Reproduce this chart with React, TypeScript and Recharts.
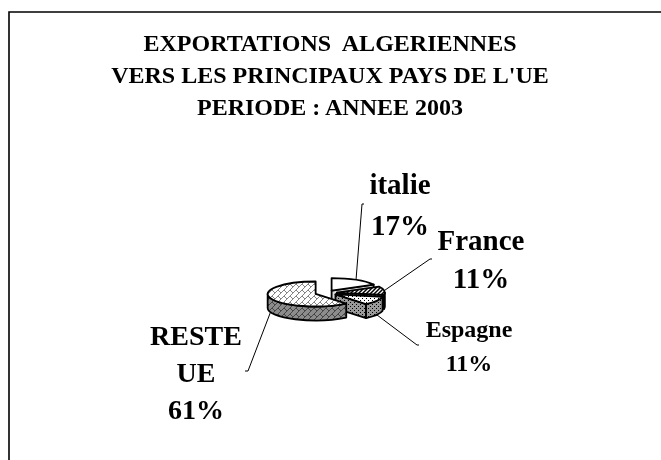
import { PieChart, Pie } from "recharts";

const CATEGORIES = ["italie", "France", "Espagne", "RESTE UE"];
const SHARES = [17, 11, 11, 61];

const TITLE_LINES = [
  "EXPORTATIONS  ALGERIENNES",
  "VERS LES PRINCIPAUX PAYS DE L'UE",
  "PERIODE : ANNEE 2003",
];

const data = CATEGORIES.map((name, i) => ({ name, value: SHARES[i] }));

// 3D look
const TILT = 0.26;
const DEPTH = 14;
const EXPLODE = 11;
const RAD = Math.PI / 180;
const FONT = "'Liberation Serif', 'Times New Roman', serif";

const SLICE_FILLS = [
  { top: "#ffffff", side: "#d9d9d9" },
  { top: "url(#pFranceTop)", side: "url(#pFranceSide)" },
  { top: "url(#pEspTop)", side: "url(#pEspSide)" },
  { top: "url(#pResteTop)", side: "url(#pResteSide)" },
];

// where each label block sits (svg coords)
const LABEL_LAYOUT = [
  { end: [354, 196], tick: 2, x: 392, y: 186, gap: 41, size: 29 },
  { end: [422, 251], tick: 2, x: 473, y: 242, gap: 38, size: 29 },
  { end: [409, 337], tick: 2, x: 461, y: 329, gap: 34, size: 24 },
  { end: [240, 363], tick: -3, x: 188, y: 337, gap: 37, size: 28 },
];

const pt = (cx: number, cy: number, rx: number, ry: number, a: number) => [
  cx + rx * Math.cos(a * RAD),
  cy - ry * Math.sin(a * RAD),
];

const explodedCenter = (cx: number, cy: number, mid: number) => [
  cx + EXPLODE * Math.cos(mid * RAD),
  cy - EXPLODE * TILT * Math.sin(mid * RAD),
];

const Slice3D = (props: any) => {
  const { cx, cy, outerRadius, startAngle, endAngle, midAngle, index } = props;
  const rx = outerRadius;
  const ry = outerRadius * TILT;
  const [ox, oy] = explodedCenter(cx, cy, midAngle);
  const s = startAngle;
  const e = endAngle;
  const [sx, sy] = pt(ox, oy, rx, ry, s);
  const [ex, ey] = pt(ox, oy, rx, ry, e);
  const large = s - e > 180 ? 1 : 0;
  const fills = SLICE_FILLS[index] || SLICE_FILLS[0];
  const d = DEPTH;

  const walls: string[] = [];
  if (Math.cos(s * RAD) < -0.001) {
    walls.push(`M${ox},${oy}L${sx},${sy}L${sx},${sy + d}L${ox},${oy + d}Z`);
  }
  if (Math.cos(e * RAD) > 0.001) {
    walls.push(`M${ox},${oy}L${ex},${ey}L${ex},${ey + d}L${ox},${oy + d}Z`);
  }
  const hi = Math.min(s, 0);
  const lo = Math.max(e, -180);
  if (hi > lo) {
    const [hx, hy] = pt(ox, oy, rx, ry, hi);
    const [lx, ly] = pt(ox, oy, rx, ry, lo);
    walls.push(
      `M${hx},${hy}A${rx},${ry} 0 0 1 ${lx},${ly}L${lx},${ly + d}A${rx},${ry} 0 0 0 ${hx},${hy + d}Z`
    );
  }
  const top = `M${ox},${oy}L${sx},${sy}A${rx},${ry} 0 ${large} 1 ${ex},${ey}Z`;

  return (
    <g>
      {walls.map((w, i) => (
        <path key={i} d={w} fill={fills.side} stroke="#000" strokeWidth={1.8} strokeLinejoin="round" />
      ))}
      <path d={top} fill={fills.top} stroke="#000" strokeWidth={1.8} strokeLinejoin="round" />
    </g>
  );
};

const renderLabel = (props: any) => {
  const { cx, cy, outerRadius, midAngle, index, name, percent } = props;
  const lay = LABEL_LAYOUT[index];
  const [ox, oy] = explodedCenter(cx, cy, midAngle);
  const [ax, ay0] = pt(ox, oy, outerRadius, outerRadius * TILT, midAngle);
  const ay = Math.sin(midAngle * RAD) < 0 ? ay0 + DEPTH : ay0;
  const lines = [...String(name).split(" "), `${Math.round(percent * 100)}%`];
  return (
    <g key={`lbl-${index}`}>
      <polyline
        points={`${ax},${ay} ${lay.end[0]},${lay.end[1]} ${lay.end[0] + lay.tick},${lay.end[1]}`}
        fill="none"
        stroke="#000"
        strokeWidth={1}
      />
      {lines.map((l, i) => (
        <text
          key={i}
          x={lay.x}
          y={lay.y + i * lay.gap}
          textAnchor="middle"
          style={{ fontFamily: FONT, fontWeight: 700, fontSize: lay.size }}
          fill="#000"
        >
          {l}
        </text>
      ))}
    </g>
  );
};

const Patterns = () => (
  <svg width={0} height={0} style={{ position: "absolute" }}>
    <defs>
      <pattern id="pFranceTop" width={4} height={4} patternUnits="userSpaceOnUse">
        <rect width={4} height={4} fill="#fff" />
        <path d="M-1,1L1,-1M0,4L4,0M3,5L5,3" stroke="#000" strokeWidth={1.5} />
      </pattern>
      <pattern id="pFranceSide" width={4} height={4} patternUnits="userSpaceOnUse">
        <rect width={4} height={4} fill="#333" />
        <path d="M-1,1L1,-1M0,4L4,0M3,5L5,3" stroke="#888" strokeWidth={1} />
      </pattern>
      <pattern id="pEspTop" width={4} height={4} patternUnits="userSpaceOnUse">
        <rect width={4} height={4} fill="#fff" />
        <rect x={0} y={0} width={1} height={1} fill="#000" />
        <rect x={2} y={2} width={1} height={1} fill="#000" />
      </pattern>
      <pattern id="pEspSide" width={4} height={4} patternUnits="userSpaceOnUse">
        <rect width={4} height={4} fill="#9a9a9a" />
        <rect x={0} y={0} width={1} height={1} fill="#000" />
        <rect x={2} y={2} width={1} height={1} fill="#000" />
      </pattern>
      <pattern id="pResteTop" width={6} height={6} patternUnits="userSpaceOnUse">
        <rect width={6} height={6} fill="#fff" />
        <path d="M0,6L6,0M0,0L3,3" stroke="#666" strokeWidth={0.8} />
      </pattern>
      <pattern id="pResteSide" width={6} height={6} patternUnits="userSpaceOnUse">
        <rect width={6} height={6} fill="#8c8c8c" />
        <path d="M0,6L6,0M0,0L3,3" stroke="#333" strokeWidth={0.8} />
      </pattern>
    </defs>
  </svg>
);

export default function App() {
  return (
    <div style={{ position: "fixed", left: 8, top: 8, width: 653, height: 452, overflow: "hidden" }}>
      <Patterns />
      <PieChart width={653} height={452} margin={{ top: 0, right: 0, bottom: 0, left: 0 }}>
        <polyline points="1,460 1,4 660,4" fill="none" stroke="#000" strokeWidth={1.6} />
        {TITLE_LINES.map((t, i) => (
          <text
            key={t}
            x={322}
            y={43 + i * 32}
            textAnchor="middle"
            style={{ fontFamily: FONT, fontWeight: 700, fontSize: 24, whiteSpace: "pre" }}
            fill="#000"
          >
            {t}
          </text>
        ))}
        <Pie
          data={data}
          dataKey="value"
          nameKey="name"
          cx={318}
          cy={285}
          outerRadius={48}
          startAngle={90}
          endAngle={-270}
          shape={Slice3D}
          label={renderLabel}
          labelLine={false}
          isAnimationActive={false}
        />
      </PieChart>
    </div>
  );
}
